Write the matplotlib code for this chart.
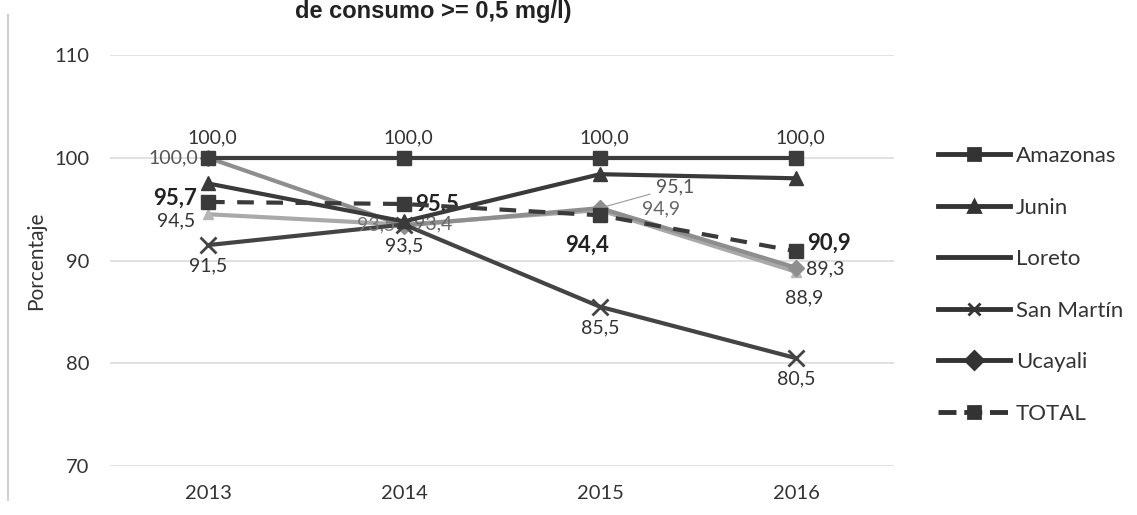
import matplotlib
matplotlib.use("Agg")
import matplotlib.pyplot as plt
from matplotlib.lines import Line2D

years = ["2013", "2014", "2015", "2016"]
amazonas = [100.0, 100.0, 100.0, 100.0]
junin = [97.5, 93.8, 98.4, 98.0]
loreto = [94.5, 93.5, 94.9, 88.9]
san_martin = [91.5, 93.5, 85.5, 80.5]
ucayali = [100.0, 93.4, 95.1, 89.3]
total = [95.7, 95.5, 94.4, 90.9]
yticks = [70, 80, 90, 100, 110]

plt.rcParams['font.family'] = ['Lato', 'DejaVu Sans']

W, H = 1137, 515
fig = plt.figure(figsize=(W / 100, H / 100), dpi=100)
ax = fig.add_axes([110 / W, 1 - 466 / H, 784 / W, 411 / H])

x = list(range(len(years)))
ax.set_xlim(-0.5, len(years) - 0.5)
ax.set_ylim(70, 110)
ax.set_yticks(yticks)
ax.set_xticks(x)
ax.set_xticklabels(years)
ax.tick_params(length=0, labelsize=14.5, colors='#333333')
ax.tick_params(axis='x', pad=14)
ax.tick_params(axis='y', pad=15)
for s in ax.spines.values():
    s.set_visible(False)
ax.grid(axis='y', color='#dcdcdc', linewidth=1.2)
ax.set_axisbelow(True)
ax.set_ylabel("Porcentaje", fontsize=15, color='#333333', labelpad=6)

lw = 3.0
ax.plot(x, loreto, color='#a9a9a9', lw=lw, marker='^', ms=7, mfc='#b5b5b5', mec='#b5b5b5', label='Loreto', zorder=2)
ax.plot(x, ucayali, color='#8e8e8e', lw=lw, marker='D', ms=8, mfc='#8e8e8e', mec='#8e8e8e', label='Ucayali', zorder=3)
ax.plot(x, san_martin, color='#444444', lw=lw, marker='x', ms=11, mew=2, label='San Martín', zorder=3)
ax.plot(x, junin, color='#3a3a3a', lw=lw, marker='^', ms=10, label='Junin', zorder=4)
ax.plot(x, amazonas, color='#3c3c3c', lw=lw, marker='s', ms=10, label='Amazonas', zorder=5)
ax.plot(x, total, color='#3a3a3a', lw=lw, ls=(0, (4, 3)), marker='s', ms=10, label='TOTAL', zorder=5)

def fmt(v):
    return f"{v:.1f}".replace('.', ',')

fs = 14
lab = dict(fontsize=fs, color='#333333')
# Amazonas above
for i, v in enumerate(amazonas):
    ax.annotate(fmt(v), (i, v), xytext=(3, 8), textcoords='offset points', ha='center', va='bottom', **lab)
# Ucayali
ax.annotate(fmt(ucayali[0]), (0, ucayali[0]), xytext=(-7, 0), textcoords='offset points', ha='right', va='center', fontsize=fs, color='#555555')
ax.annotate(fmt(ucayali[1]), (1, ucayali[1]), xytext=(7, 1), textcoords='offset points', ha='left', va='center', fontsize=fs, color='#666666')
ax.annotate(fmt(ucayali[2]), (2, ucayali[2]), xytext=(40, 15), textcoords='offset points', ha='left', va='center', fontsize=fs, color='#555555',
            arrowprops=dict(arrowstyle='-', color='#999999', lw=0.8, shrinkA=2, shrinkB=2))
ax.annotate(fmt(ucayali[3]), (3, ucayali[3]), xytext=(7, -1), textcoords='offset points', ha='left', va='center', **lab)
# Loreto
ax.annotate(fmt(loreto[0]), (0, loreto[0]), xytext=(-9, -5), textcoords='offset points', ha='right', va='center', **lab)
ax.annotate(fmt(loreto[1]), (1, loreto[1]), xytext=(-6, 0), textcoords='offset points', ha='right', va='center', fontsize=fs, color='#777777')
ax.annotate(fmt(loreto[2]), (2, loreto[2]), xytext=(30, 1), textcoords='offset points', ha='left', va='center', fontsize=fs, color='#666666')
ax.annotate(fmt(loreto[3]), (3, loreto[3]), xytext=(6, -19), textcoords='offset points', ha='center', va='center', **lab)
# San Martín below
for i, v in enumerate(san_martin):
    ax.annotate(fmt(v), (i, v), xytext=(0, -9), textcoords='offset points', ha='center', va='top', **lab)
# TOTAL bold
tb = dict(fontsize=16, fontweight='bold', color='#222222')
ax.annotate(fmt(total[0]), (0, total[0]), xytext=(-8, 3), textcoords='offset points', ha='right', va='center', **tb)
ax.annotate(fmt(total[1]), (1, total[1]), xytext=(8, 0), textcoords='offset points', ha='left', va='center', **tb)
ax.annotate(fmt(total[2]), (2, total[2]), xytext=(-9, -14), textcoords='offset points', ha='center', va='top', **tb)
ax.annotate(fmt(total[3]), (3, total[3]), xytext=(8, 6), textcoords='offset points', ha='left', va='center', **tb)

# legend
order = ['Amazonas', 'Junin', 'Loreto', 'San Martín', 'Ucayali', 'TOTAL']
hs, ls = ax.get_legend_handles_labels()
d = dict(zip(ls, hs))
handles = []
for name in order:
    h = d[name]
    handles.append(Line2D([0], [0], color='#333333', lw=3.5, ls=h.get_linestyle(),
                          marker=h.get_marker() if name != 'Loreto' else None,
                          ms=9, mew=2, mfc='#333333', mec='#333333'))
fig.legend(handles, order, loc='upper left', bbox_to_anchor=(938 / W, 1 - 146 / H),
           frameon=False, fontsize=16, handlelength=3.25, handletextpad=0.25,
           labelspacing=1.42, labelcolor='#333333', borderaxespad=0, borderpad=0)

# title (partially cut by the scan)
fig.text(433 / W, 1 - 18 / H, "de consumo >= 0,5 mg/l)", ha='center', va='baseline',
         fontsize=17, fontweight='bold', family='Liberation Sans', color='#222222')

# left edge of scanned chart frame
fig.add_artist(Line2D([8 / W, 8 / W], [1 - 500 / H, 1 - 15 / H], color='#d0d0d0', lw=1.5))

fig.savefig("out.png", dpi=100)
